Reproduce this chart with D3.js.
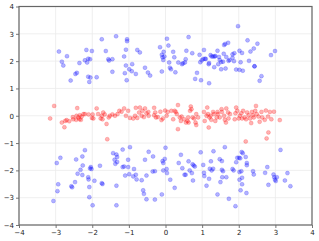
<!DOCTYPE html>
<html>
<head>
<meta charset="utf-8">
<script src="https://cdn.jsdelivr.net/npm/d3@7"></script>
<style>
  body { margin: 0; background: #fff; }
  text { font-family: "DejaVu Sans", sans-serif; }
</style>
</head>
<body>
<div id="chart"></div>
<script>
// tick values shared by both axes
const ticks = [-4, -3, -2, -1, 0, 1, 2, 3, 4];

// upper blue band
const blueTop = [
  [-2.91,2.35],[-2.83,1.98],[-2.79,1.84],[-2.69,2.18],[-2.59,1.29],[-2.46,1.53],[-2.42,1.57],
  [-2.35,1.93],[-2.20,2.03],[-2.16,2.41],[-2.11,2.09],[-2.06,2.07],[-2.14,1.95],[-2.11,1.43],
  [-2.05,1.40],[-2.08,1.24],[-2.01,2.37],[-1.88,1.41],[-1.74,2.80],[-1.63,2.37],[-1.56,2.07],
  [-1.54,2.02],[-1.45,2.07],[-1.45,1.61],[-1.35,2.91],[-1.13,2.17],[-1.08,2.42],[-1.05,2.80],
  [-1.05,2.73],[-1.08,1.84],[-1.11,1.56],[-1.06,1.30],[-0.99,1.70],[-0.91,1.89],[-0.92,1.63],
  [-0.81,1.53],[-0.77,2.41],[-0.70,2.32],[-0.56,1.76],[-0.48,1.58],[-0.42,1.47],[-0.15,2.51],
  [-0.10,1.62],[-0.10,2.23],[-0.08,2.14],[-0.05,2.34],[-0.06,2.04],[-0.03,2.17],[0.04,2.82],
  [0.08,2.57],[0.10,1.95],[0.12,1.76],[0.15,1.70],[0.21,2.34],[0.24,2.14],[0.27,1.59],[0.35,1.95],
  [0.48,1.92],[0.45,1.89],[0.53,1.95],[0.55,2.07],[0.57,2.38],[0.63,2.88],[0.73,2.29],[0.81,1.35],
  [0.86,1.57],[0.93,2.23],[0.97,1.30],[0.95,1.96],[0.99,2.03],[1.05,2.41],[1.08,2.09],[1.03,2.08],
  [1.10,2.08],[1.18,1.89],[1.19,1.93],[1.19,1.19],[1.23,2.22],[1.26,2.17],[1.30,2.17],[1.34,2.17],
  [1.33,1.78],[1.36,2.19],[1.42,2.38],[1.44,1.89],[1.46,2.15],[1.48,2.04],[1.52,1.70],[1.52,1.97],
  [1.57,1.98],[1.59,2.27],[1.60,2.59],[1.63,2.63],[1.64,1.73],[1.66,2.15],[1.71,2.67],[1.72,2.01],
  [1.75,2.04],[1.83,2.25],[1.83,2.12],[1.88,2.29],[1.87,2.00],[1.93,1.69],[1.98,3.28],[2.02,2.38],
  [2.05,1.96],[2.02,1.68],[2.09,2.30],[2.11,1.65],[2.24,2.76],[2.28,2.01],[2.32,2.35],[2.41,2.46],
  [2.43,1.81],[2.43,1.81],[2.51,2.64],[2.57,1.28],[2.62,1.45],[2.88,2.22],[2.99,2.37]
];

// red band around zero
const redMid = [
  [-3.15,-0.10],[-3.04,0.36],[-2.83,-0.25],[-2.76,-0.42],[-2.74,-0.19],[-2.70,-0.16],[-2.63,-0.20],
  [-2.53,-0.05],[-2.52,-0.13],[-2.44,-0.15],[-2.41,0.28],[-2.43,0.00],[-2.38,-0.06],[-2.35,-0.13],
  [-2.34,0.02],[-2.31,-0.15],[-2.29,-0.03],[-2.24,0.06],[-2.20,0.06],[-2.10,0.05],[-2.01,-0.08],
  [-1.97,-0.10],[-1.99,0.05],[-1.88,0.27],[-1.84,0.06],[-1.77,-0.10],[-1.74,0.00],[-1.72,-0.13],
  [-1.70,0.12],[-1.66,0.05],[-1.61,-0.30],[-1.59,-0.86],[-1.55,-0.06],[-1.52,0.00],[-1.45,0.05],
  [-1.38,0.00],[-1.31,0.06],[-1.26,0.18],[-1.20,0.15],[-1.13,0.27],[-1.08,0.00],[-1.02,0.18],
  [-0.97,-0.08],[-0.88,-0.10],[-0.83,0.00],[-0.81,0.29],[-0.77,-0.08],[-0.72,0.12],[-0.70,0.30],
  [-0.65,0.00],[-0.63,0.18],[-0.59,-0.05],[-0.56,0.27],[-0.52,0.09],[-0.47,0.14],[-0.46,0.00],
  [-0.31,0.29],[-0.31,0.02],[-0.28,0.12],[-0.26,-0.06],[-0.21,-0.05],[-0.14,0.15],[-0.11,-0.16],
  [-0.07,-0.10],[-0.01,0.19],[0.03,0.00],[0.06,0.14],
  [0.16,0.18],[0.21,-0.13],[0.25,0.18],[0.28,0.14],[0.31,0.06],[0.34,0.39],[0.34,-0.49],[0.39,-0.06],
  [0.42,-0.19],[0.44,-0.03],[0.51,-0.13],[0.56,-0.25],[0.60,-0.19],[0.62,-0.06],[0.63,-0.25],
  [0.67,0.18],[0.69,0.34],[0.71,0.24],[0.74,-0.06],[0.78,-0.10],[0.82,-0.25],[0.84,0.06],
  [0.84,-0.34],[0.89,-0.06],[1.05,0.14],[1.07,-0.19],[1.12,0.00],[1.14,0.30],[1.16,0.06],
  [1.18,-0.43],[1.20,-0.06],[1.23,0.00],[1.25,-0.15],[1.30,0.14],[1.32,0.06],[1.36,-0.19],
  [1.40,-0.06],[1.42,0.14],[1.43,0.06],[1.48,-0.06],[1.53,0.24],[1.54,0.14],[1.60,0.00],
  [1.62,-0.15],[1.65,-0.25],[1.66,0.27],[1.71,0.12],[1.72,-0.10],[1.76,0.06],[1.89,-0.13],
  [1.91,0.09],[1.93,0.30],[1.96,0.18],[2.00,-0.10],[2.03,0.00],[2.07,0.09],[2.09,-0.10],
  [2.12,0.18],[2.16,-0.06],[2.20,-0.13],[2.23,0.12],[2.27,0.02],[2.31,-0.10],[2.34,-0.27],
  [2.36,0.14],[2.39,0.02],[2.41,-0.06],[2.45,0.18],[2.47,0.36],[2.49,0.06],[2.54,-0.03],
  [2.57,-0.22],[2.62,0.14],[2.64,-0.06],[2.71,-0.15],[2.74,0.19],[2.80,-0.03],[2.81,-0.61],
  [2.85,0.14],[2.89,-0.13],[2.96,0.15],[3.12,-0.16],[2.76,-0.83],[2.19,-0.94]
];

// lower blue band
const blueBottom = [
  [-3.06,-3.12],[-2.97,-1.73],[-2.95,-2.76],[-2.93,-2.51],[-2.87,-1.54],[-2.57,-2.58],[-2.55,-2.62],
  [-2.47,-2.43],[-2.44,-1.60],[-2.40,-2.12],[-2.32,-1.98],[-2.27,-2.17],[-2.26,-1.82],[-2.27,-1.49],
  [-2.20,-1.26],[-2.11,-2.25],[-2.10,-2.33],[-2.08,-2.61],[-2.06,-1.93],[-2.04,-1.88],[-2.02,-1.95],
  [-2.08,-2.98],[-1.99,-3.28],[-1.94,-2.38],[-1.79,-1.83],[-1.74,-2.47],[-1.72,-2.50],[-1.43,-1.37],
  [-1.39,-1.61],[-1.37,-1.76],[-1.34,-1.42],[-1.32,-1.51],[-1.32,-1.69],[-1.34,-2.56],[-1.34,-3.28],
  [-1.17,-1.24],[-1.17,-1.88],[-1.13,-1.86],[-1.10,-2.19],[-1.02,-1.61],[-1.02,-1.88],[-0.99,-2.14],
  [-0.97,-1.15],[-0.88,-2.22],[-0.86,-1.95],[-0.81,-2.16],[-0.79,-2.33],[-0.65,-2.36],[-0.61,-2.73],
  [-0.59,-2.86],[-0.56,-1.61],[-0.52,-2.19],[-0.52,-3.06],[-0.46,-1.32],[-0.35,-2.04],[-0.34,-1.49],
  [-0.29,-2.03],[-0.29,-3.07],[-0.10,-2.88],[-0.08,-1.66],[-0.06,-2.00],[-0.06,-1.73],[-0.02,-1.58],
  [0.00,-1.17],[0.03,-1.95],[0.04,-2.10],[0.13,-2.34],[0.25,-2.64],[0.36,-1.73],
  [0.42,-1.43],[0.46,-1.92],[0.52,-2.16],[0.55,-2.16],[0.63,-1.67],[0.66,-2.00],[0.72,-2.10],
  [0.74,-1.78],[0.75,-2.37],[0.77,-1.82],[0.80,-1.86],[0.96,-1.34],[1.03,-1.80],[1.05,-2.09],
  [1.06,-2.21],[1.12,-2.56],[1.19,-2.31],[1.21,-1.94],[1.24,-1.67],[1.26,-2.00],[1.30,-1.94],
  [1.31,-1.30],[1.42,-2.88],[1.48,-1.59],[1.50,-2.43],[1.54,-1.66],[1.54,-1.98],[1.57,-2.03],
  [1.55,-2.25],[1.62,-1.15],[1.66,-2.25],[1.73,-3.04],[1.83,-1.95],[1.86,-2.00],[1.91,-3.31],
  [1.93,-1.70],[1.96,-1.54],[2.01,-1.54],[2.02,-2.06],[2.02,-2.34],[2.04,-1.56],[2.05,-2.73],
  [2.07,-2.03],[2.08,-1.33],[2.09,-2.27],[2.09,-2.51],[2.11,-1.37],[2.19,-1.51],[2.21,-2.83],
  [2.22,-1.73],[2.22,-1.81],[2.39,-2.03],[2.41,-2.15],[2.72,-2.09],[2.78,-1.88],[2.81,-2.53],
  [2.95,-2.15],[2.97,-2.25],[2.99,-2.34],[3.01,-2.39],[3.04,-2.25],[3.14,-1.25],[3.26,-2.37],
  [3.33,-2.10],[3.41,-2.58]
];

const W = 319, H = 241;
const margin = {left: 19, right: 7, top: 6.5, bottom: 16};

const svg = d3.select("#chart").append("svg")
    .attr("width", W)
    .attr("height", H);

const x = d3.scaleLinear().domain([-4, 4]).range([margin.left, W - margin.right]);
const y = d3.scaleLinear().domain([-4, 4]).range([H - margin.bottom, margin.top]);

// grid
svg.append("g")
    .selectAll("line.gx")
    .data(ticks)
    .join("line")
    .attr("x1", d => x(d)).attr("x2", d => x(d))
    .attr("y1", y(-4)).attr("y2", y(4))
    .style("stroke", "#ebebeb").style("stroke-width", 0.8);

svg.append("g")
    .selectAll("line.gy")
    .data(ticks)
    .join("line")
    .attr("y1", d => y(d)).attr("y2", d => y(d))
    .attr("x1", x(-4)).attr("x2", x(4))
    .style("stroke", "#ebebeb").style("stroke-width", 0.8);

const fmt = d => d < 0 ? "\u2212" + Math.abs(d) : String(d);

let xAxis = svg.append("g")
    .attr("transform", "translate(0," + y(-4) + ")")
    .call(d3.axisBottom(x).tickValues(ticks).tickFormat(fmt).tickSize(3).tickPadding(2));

let yAxis = svg.append("g")
    .attr("transform", "translate(" + x(-4) + ",0)")
    .call(d3.axisLeft(y).tickValues(ticks).tickFormat(fmt).tickSize(3).tickPadding(2));

[xAxis, yAxis].forEach(a => {
    a.select(".domain").remove();
    a.selectAll(".tick line").style("stroke", "#555").style("stroke-width", 0.8);
    a.selectAll("text").style("font-size", "7px").style("fill", "#222");
});

// spines
svg.append("rect")
    .attr("x", x(-4)).attr("y", y(4))
    .attr("width", x(4) - x(-4)).attr("height", y(-4) - y(4))
    .style("fill", "none").style("stroke", "#666").style("stroke-width", 1.2);

function dots(data, color) {
    svg.append("g")
        .selectAll("circle")
        .data(data)
        .join("circle")
        .attr("cx", d => x(d[0]))
        .attr("cy", d => y(d[1]))
        .attr("r", 2)
        .style("fill", color).style("fill-opacity", 0.3)
        .style("stroke", color).style("stroke-opacity", 0.3).style("stroke-width", 0.6);
}

dots(blueTop, "blue");
dots(blueBottom, "blue");
dots(redMid, "red");
</script>
</body>
</html>
